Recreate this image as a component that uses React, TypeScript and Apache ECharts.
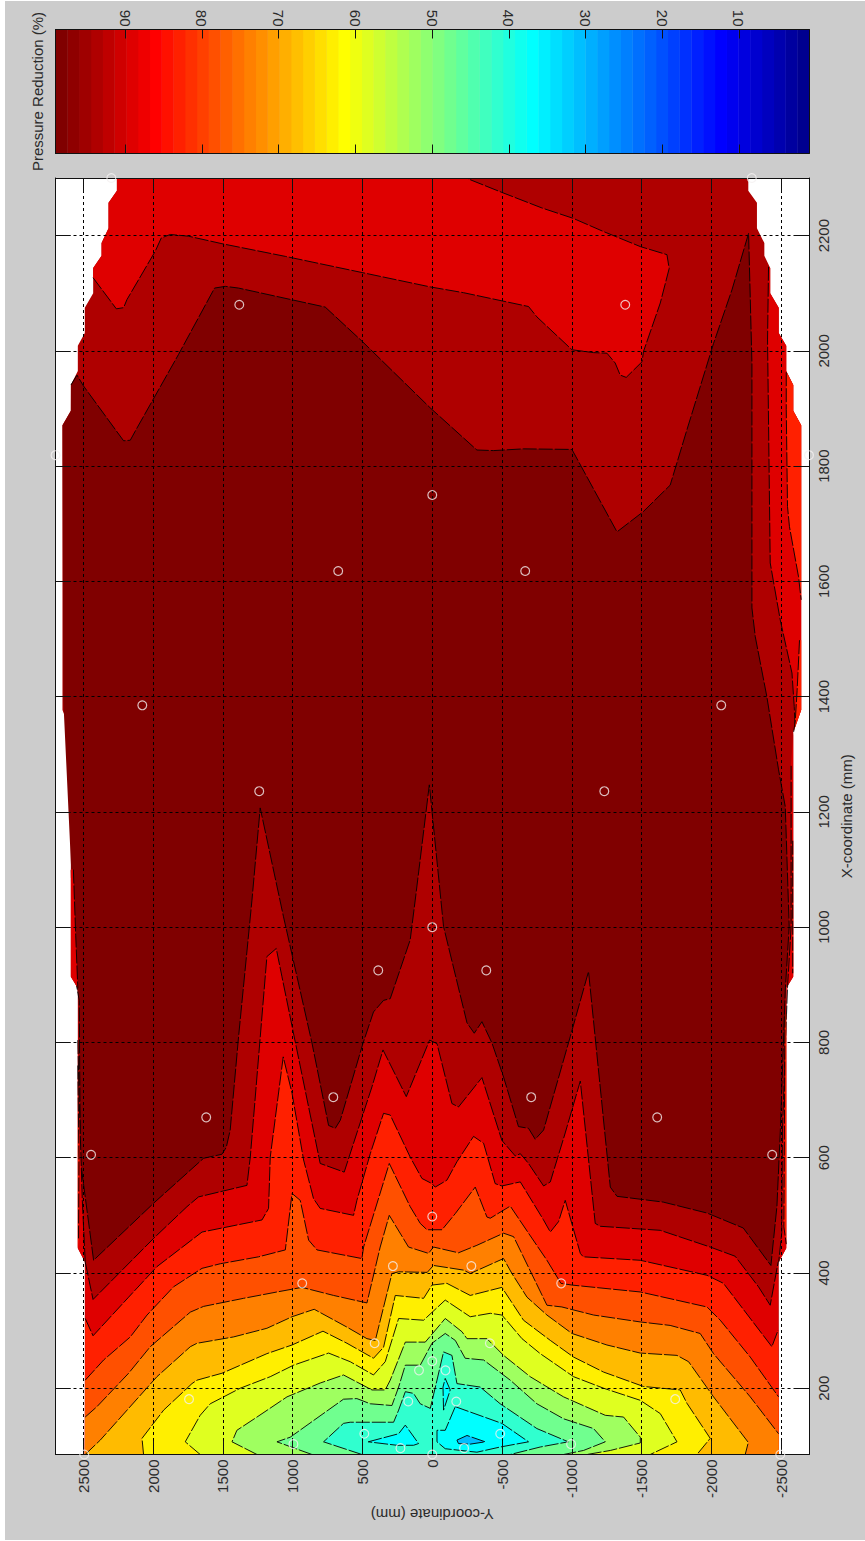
import React, { useEffect, useRef } from "react";
import * as echarts from "echarts";

type P = [number, number];

const yTicks = [-2500, -2000, -1500, -1000, -500, 0, 500, 1000, 1500, 2000, 2500];
const xTicks = [200, 400, 600, 800, 1000, 1200, 1400, 1600, 1800, 2000, 2200];
const barTicks = [10, 20, 30, 40, 50, 60, 70, 80, 90];

const jetColors = [
  "#00008f","#00009f","#0000af","#0000bf","#0000cf","#0000df","#0000ef","#0000ff",
  "#0010ff","#0020ff","#0030ff","#0040ff","#0050ff","#0060ff","#0070ff","#0080ff",
  "#008fff","#009fff","#00afff","#00bfff","#00cfff","#00dfff","#00efff","#00ffff",
  "#10ffef","#20ffdf","#30ffcf","#40ffbf","#50ffaf","#60ff9f","#70ff8f","#80ff80",
  "#8fff70","#9fff60","#afff50","#bfff40","#cfff30","#dfff20","#efff10","#ffff00",
  "#ffef00","#ffdf00","#ffcf00","#ffbf00","#ffaf00","#ff9f00","#ff8f00","#ff8000",
  "#ff7000","#ff6000","#ff5000","#ff4000","#ff3000","#ff2000","#ff1000","#ff0000",
  "#ef0000","#df0000","#cf0000","#bf0000","#af0000","#9f0000","#8f0000","#800000",
];

// [Y-coordinate, X-coordinate] in mm
const domainOutline: P[] = [
  [2260,2300],[2260,2278],[2320,2257],[2320,2213],[2370,2187],[2370,2165],[2430,2144],[2430,2100],
  [2490,2075],[2490,2031],[2540,2009],[2540,1965],[2590,1941],[2590,1896],[2650,1871],[2650,1377],
  [2590,1339],[2590,914],[2540,894],[2540,443],[2490,419],[2490,85],
  [-2483,85],[-2483,419],[-2537,443],[-2537,894],[-2587,914],[-2587,1339],[-2644,1377],[-2644,1871],
  [-2587,1896],[-2587,1941],[-2537,1965],[-2537,2009],[-2483,2031],[-2483,2075],[-2422,2100],[-2422,2144],
  [-2380,2165],[-2380,2187],[-2327,2213],[-2327,2257],[-2265,2278],[-2265,2300],
];

const dark95Line: P[] = [
  [2589,1941],[2546,1958],[2499,1939],[2212,1844],[2164,1845],[2128,1861],[1818,1994],[1560,2109],[1483,2112],[1388,2109],
  [767,2076],[504,2017],[14,1901],[-320,1828],[-439,1827],[-652,1830],[-1001,1829],[-1324,1686],[-1512,1721],[-1705,1767],
  [-1825,1863],[-2016,2013],[-2148,2106],[-2267,2204],[-2291,1979],[-2291,1554],[-2315,1504],[-2398,1400],[-2482,1273],
  [-2530,1209],[-2558,1001],[-2530,891],[-2494,643],[-2470,515],[-2427,413],[-2229,478],[-1969,504],[-1655,523],[-1324,533],
  [-1276,549],[-1120,923],[-989,810],[-798,648],[-738,632],[-690,651],[-618,654],[-511,740],[-428,799],[-356,836],[-301,816],
  [-249,834],[-81,1001],[21,1247],[122,1047],[158,978],[301,876],[349,873],[421,853],[497,798],[659,665],[695,651],[743,656],
  [862,799],[1066,1018],[1233,1207],[1292,1047],[1388,810],[1448,648],[1476,618],[1507,606],[1639,599],[1997,521],[2427,422],
  [2487,532],[2522,596],[2530,873],[2573,931],[2587,1099],
];
const dark95Close: P[] = [[2644,1394],[2650,1871],[2590,1896]];

const top90Line: P[] = [
  [2431,2127],[2264,2073],[2212,2075],[2188,2089],[1985,2173],[1942,2196],[1877,2202],[1746,2199],[1507,2186],[1053,2164],
  [504,2136],[14,2111],[-224,2101],[-690,2077],[-750,2059],[-1001,2002],[-1156,1997],[-1252,1996],[-1311,1979],[-1347,1958],
  [-1390,1954],[-1503,1981],[-1514,1999],[-1634,2083],[-1698,2143],[-1682,2167],[-1491,2181],[-1228,2207],[-1010,2230],
  [-786,2248],[-499,2275],[-272,2297],[-251,2300],
];
const top90Close: P[] = [[2260,2300],[2260,2278],[2320,2257],[2320,2213],[2370,2187],[2370,2165],[2430,2144]];

const rightStrip90Line: P[] = [[-2410,2146],[-2403,2019],[-2422,1632],[-2494,1533],[-2578,1441],[-2594,1383],[-2601,1347]];
const rightStrip90Close: P[] = [[-2644,1377],[-2644,1871],[-2587,1896],[-2587,1941],[-2537,1965],[-2537,2009],[-2483,2031],[-2483,2075],[-2422,2100],[-2422,2144]];
const rightStrip85Line: P[] = [[-2537,1963],[-2537,1898],[-2546,1730],[-2560,1695],[-2625,1608],[-2644,1568]];
const rightStrip85Close: P[] = [[-2644,1871],[-2587,1896],[-2587,1941]];
const rightSliver85Line: P[] = [[-2632,1498],[-2615,1411],[-2601,1356],[-2590,1339]];
const rightSliver85Close: P[] = [[-2644,1377],[-2644,1498]];
const edgeRight90aLine: P[] = [[-2572,1280],[-2572,1001],[-2545,891],[-2510,650]];
const edgeRight90aClose: P[] = [[-2537,650],[-2537,894],[-2587,914],[-2587,1339]];
const edgeRight90bLine: P[] = [[-2510,650],[-2505,470],[-2483,419]];
const edgeRight90bClose: P[] = [[-2537,443],[-2537,650]];
const edgeRight85aLine: P[] = [[-2583,1150],[-2583,920]];
const edgeRight85aClose: P[] = [[-2587,920],[-2587,1150]];
const edgeRight85bLine: P[] = [[-2528,850],[-2520,480],[-2537,450]];
const edgeRight85bClose: P[] = [[-2537,850]];
const edgeLeft90aLine: P[] = [[2572,1100],[2555,985],[2540,894]];
const edgeLeft90aClose: P[] = [[2590,914],[2590,1100]];
const edgeLeft90bLine: P[] = [[2540,804],[2530,700],[2508,526],[2487,419]];
const edgeLeft90bClose: P[] = [[2540,443]];
const edgeLeft85Line: P[] = [[2540,760],[2532,600],[2535,460]];
const edgeLeft85Close: P[] = [[2540,443]];

const bottomCorners: P[] = [[-2483,85],[2490,85]];

const level90: P[] = [
  [2487,419],[2431,354],[1997,460],[1758,515],[1675,532],[1328,552],[1304,601],[1185,949],[1118,963],[1077,914],[970,787],
  [803,590],[631,575],[540,643],[432,723],[353,787],[186,706],[19,804],[-34,798],[-141,694],[-188,688],[-356,739],[-499,630],
  [-595,603],[-631,607],[-690,590],[-798,551],[-846,558],[-953,643],[-1061,733],[-1168,486],[-1204,481],[-1634,474],[-1992,445],
  [-2171,429],[-2338,376],[-2422,344],[-2479,419],
];
const level85: P[] = [
  [2487,321],[2431,291],[2176,358],[1973,411],[1650,471],[1220,492],[1173,512],[1161,601],[1068,775],[1005,712],[922,596],
  [851,529],[803,512],[564,500],[540,526],[444,607],[349,677],[301,674],[158,601],[74,564],[2,555],[-21,549],[-105,561],
  [-177,593],[-296,637],[-368,625],[-451,555],[-499,551],[-631,558],[-795,493],[-846,471],[-905,489],[-953,526],[-1061,434],
  [-1082,428],[-1491,422],[-1969,396],[-2087,382],[-2434,272],[-2479,301],
];
const level80: P[] = [
  [2487,214],[2355,249],[2164,289],[2044,327],[1854,376],[1650,408],[1519,416],[1245,428],[1053,440],[1005,538],[946,526],
  [886,457],[826,440],[504,425],[492,445],[308,590],[158,515],[86,486],[38,475],[-70,475],[-165,503],[-308,549],[-392,497],
  [-416,495],[-559,516],[-690,469],[-822,422],[-922,382],[-1001,379],[-1491,367],[-1969,341],[-2064,318],[-2279,254],[-2482,185],
];
const level75: P[] = [
  [2487,150],[2403,168],[2176,226],[2021,272],[1734,332],[1639,342],[1352,356],[1113,367],[934,375],[707,361],[468,348],
  [373,445],[308,500],[170,445],[27,434],[-9,445],[-188,435],[-320,448],[-511,469],[-583,463],[-822,344],[-929,341],[-1156,327],
  [-1491,315],[-1705,309],[-1920,295],[-2016,260],[-2279,185],[-2482,121],
];
const level70: P[] = [
  [2487,85],[2379,110],[2176,165],[1973,220],[1734,272],[1686,278],[1424,289],[1185,304],[1005,324],[846,337],[611,306],
  [468,286],[408,283],[289,399],[241,402],[36,401],[-9,413],[-224,405],[-272,399],[-511,425],[-571,399],[-679,358],[-822,327],
  [-1001,295],[-1252,275],[-1491,261],[-1754,257],[-1837,246],[-2016,185],[-2265,106],[-2243,85],
];
const level65: P[] = [
  [2069,85],[2080,113],[1925,162],[1722,208],[1686,214],[1507,226],[1185,260],[1005,275],[783,299],[611,278],[421,252],[349,271],
  [265,361],[62,356],[2,379],[-105,382],[-272,361],[-499,375],[-654,318],[-846,283],[-1013,254],[-1228,228],[-1514,203],
  [-1777,197],[-1825,174],[-1992,113],[-1897,85],
];
const level60: P[] = [
  [1663,85],[1770,107],[1663,153],[1591,173],[1376,200],[1161,220],[994,240],[743,261],[588,246],[421,223],[337,246],[241,321],
  [62,318],[-93,353],[-272,324],[-416,330],[-499,327],[-643,286],[-774,260],[-1013,220],[-1228,200],[-1491,179],[-1634,156],
  [-1705,127],[-1754,107],[-1562,85],
];
const level55: P[] = [
  [1256,85],[1435,107],[1400,127],[1256,150],[1041,185],[803,209],[636,223],[432,197],[337,197],[301,214],[193,280],[50,280],
  [-93,321],[-213,298],[-249,286],[-392,286],[-511,257],[-702,220],[-941,185],[-1240,153],[-1371,150],[-1491,115],[-1491,105],
  [-1276,92],[-1109,85],
];
const level50: P[] = [
  [862,85],[1113,107],[1018,115],[636,181],[540,182],[444,173],[289,170],[241,202],[193,240],[86,240],[2,278],[-93,295],[-165,283],
  [-236,252],[-368,249],[-559,214],[-750,173],[-941,147],[-1156,130],[-1240,107],[-1084,92],[-941,85],
];
const level45: P[] = [
  [504,85],[779,107],[636,139],[588,141],[277,141],[241,162],[193,194],[134,191],[86,173],[14,165],[-34,214],[-81,263],[-141,257],
  [-177,208],[-344,202],[-487,173],[-750,130],[-975,107],[-774,98],[-559,85],
];
const island40a: P[] = [[459,107],[241,121],[193,136],[98,104],[134,101],[253,101],[459,107]];
const island40b: P[] = [[-93,217],[-129,197],[-81,162],[-77,202],[-93,217]];
const island40c: P[] = [[-165,168],[-499,139],[-690,107],[-487,98],[-320,89],[-93,95],[-34,107],[-34,127],[-93,127],[-165,168]];
const island35: P[] = [[-177,110],[-249,118],[-380,107],[-272,103],[-188,104],[-177,110]];

const pointsY = [2445,-2436,1620,-1612,709,-709,387,-387,0,1240,-1233,2078,-2071,674,-666,0,1383,-1383,0,932,-924,282,-280,413,-413,95,-95,0,172,-172,487,-487,228,-228,0,995,-995,1743,-1741,2494,-2494,2300,-2290,2700,-2700];
const pointsX = [605,605,670,670,705,705,925,925,1000,1236,1236,1385,1385,1618,1618,1750,2080,2080,498,382,382,412,412,278,278,231,231,247,177,177,121,121,96,96,85,103,103,181,181,85,85,2300,2300,1819,1819];

const color95 = "#800000";
const color100 = "#af0000";
const bandColors: Record<string, string> = {
  c90: "#df0000", c85: "#ff2000", c80: "#ff5000", c75: "#ff8000", c70: "#ffbb00", c65: "#ffef00",
  c60: "#dfff20", c55: "#9fff60", c50: "#70ff8f", c45: "#30ffcf", c40: "#00ffff", c35: "#00bfff",
};

interface Band { line: P[]; close: P[]; fill: string; stroke: boolean }
const bands: Band[] = [
  { line: domainOutline, close: [], fill: color100, stroke: false },
  { line: dark95Line, close: dark95Close, fill: color95, stroke: true },
  { line: top90Line, close: top90Close, fill: bandColors.c90, stroke: true },
  { line: rightStrip90Line, close: rightStrip90Close, fill: bandColors.c90, stroke: true },
  { line: edgeRight90aLine, close: edgeRight90aClose, fill: bandColors.c90, stroke: true },
  { line: edgeRight90bLine, close: edgeRight90bClose, fill: bandColors.c90, stroke: true },
  { line: edgeLeft90aLine, close: edgeLeft90aClose, fill: bandColors.c90, stroke: true },
  { line: edgeLeft90bLine, close: edgeLeft90bClose, fill: bandColors.c90, stroke: true },
  { line: rightStrip85Line, close: rightStrip85Close, fill: bandColors.c85, stroke: true },
  { line: rightSliver85Line, close: rightSliver85Close, fill: bandColors.c85, stroke: true },
  { line: edgeRight85aLine, close: edgeRight85aClose, fill: bandColors.c85, stroke: true },
  { line: edgeRight85bLine, close: edgeRight85bClose, fill: bandColors.c85, stroke: true },
  { line: edgeLeft85Line, close: edgeLeft85Close, fill: bandColors.c85, stroke: true },
  { line: level90, close: bottomCorners, fill: bandColors.c90, stroke: true },
  { line: level85, close: bottomCorners, fill: bandColors.c85, stroke: true },
  { line: level80, close: bottomCorners, fill: bandColors.c80, stroke: true },
  { line: level75, close: bottomCorners, fill: bandColors.c75, stroke: true },
  { line: level70, close: [], fill: bandColors.c70, stroke: true },
  { line: level65, close: [], fill: bandColors.c65, stroke: true },
  { line: level60, close: [], fill: bandColors.c60, stroke: true },
  { line: level55, close: [], fill: bandColors.c55, stroke: true },
  { line: level50, close: [], fill: bandColors.c50, stroke: true },
  { line: level45, close: [], fill: bandColors.c45, stroke: true },
  { line: island40a, close: [], fill: bandColors.c40, stroke: true },
  { line: island40b, close: [], fill: bandColors.c40, stroke: true },
  { line: island40c, close: [], fill: bandColors.c40, stroke: true },
  { line: island35, close: [], fill: bandColors.c35, stroke: true },
];

const TEXT = "#2b2b2b";
const FONT = "'Liberation Sans', Arial, sans-serif";
const BAR_MIN = 0.87;
const BAR_MAX = 99.07;
const plotBox = { left: 55.5, top: 178, width: 753.5, height: 1276.5 };
const barBox = { left: 55.5, top: 29.5, width: 753.5, height: 124 };

function buildOption(): any {
  const step = (BAR_MAX - BAR_MIN) / jetColors.length;
  const strips = jetColors.map((_, i) => [BAR_MIN + i * step, BAR_MIN + (i + 1) * step, i]);
  const tick = (values: number[], length: number) => ({ show: true, inside: true, length, customValues: values, lineStyle: { color: "#111", width: 1 } });
  const label = (values: number[], margin: number) => ({
    show: true, rotate: 90, customValues: values, color: TEXT, fontSize: 15, fontFamily: FONT, margin,
    formatter: (v: number) => String(v),
  });
  const line = { show: true, onZero: false, lineStyle: { color: "#111", width: 1 } };
  const split = { show: true, lineStyle: { color: "#000", width: 1, type: [3, 3] as any } };
  const nameStyle = { color: TEXT, fontSize: 15, fontFamily: FONT };
  return {
    animation: false,
    grid: [
      { ...plotBox, show: true, backgroundColor: "#ffffff", borderWidth: 0 },
      { ...barBox, show: false },
    ],
    xAxis: [
      { type: "value", gridIndex: 0, position: "bottom", inverse: true, min: -2700, max: 2700, z: 4, axisLine: line, axisTick: tick(yTicks, 14), axisLabel: label(yTicks, 5), splitLine: { ...split },
        name: "Y-coordinate (mm)", nameLocation: "middle", nameGap: 52, nameRotate: 180, nameTextStyle: nameStyle },
      { type: "value", gridIndex: 0, position: "top", inverse: true, min: -2700, max: 2700, z: 4, axisLine: line, axisTick: tick(yTicks, 14), axisLabel: { show: false }, splitLine: { show: false } },
      { type: "value", gridIndex: 1, position: "top", inverse: true, min: BAR_MIN, max: BAR_MAX, z: 4, axisLine: line, axisTick: tick(barTicks, 9), axisLabel: label(barTicks, 3), splitLine: { show: false } },
      { type: "value", gridIndex: 1, position: "bottom", inverse: true, min: BAR_MIN, max: BAR_MAX, z: 4, axisLine: line, axisTick: tick(barTicks, 9), axisLabel: { show: false }, splitLine: { show: false } },
    ],
    yAxis: [
      { type: "value", gridIndex: 0, position: "right", min: 85, max: 2300, z: 4, axisLine: line, axisTick: tick(xTicks, 15), axisLabel: label(xTicks, 7), splitLine: { ...split },
        name: "X-coordinate (mm)", nameLocation: "middle", nameGap: 27, nameRotate: 90, nameTextStyle: nameStyle },
      { type: "value", gridIndex: 0, position: "left", min: 85, max: 2300, z: 4, axisLine: line, axisTick: tick(xTicks, 15), axisLabel: { show: false }, splitLine: { show: false } },
      { type: "value", gridIndex: 1, position: "left", min: 0, max: 1, z: 4, axisLine: line, axisTick: { show: false }, axisLabel: { show: false }, splitLine: { show: false },
        name: "Pressure Reduction (%)", nameLocation: "middle", nameGap: 10.5, nameRotate: 90, nameTextStyle: nameStyle },
      { type: "value", gridIndex: 1, position: "right", min: 0, max: 1, z: 4, axisLine: line, axisTick: { show: false }, axisLabel: { show: false }, splitLine: { show: false } },
    ],
    series: [
      {
        type: "custom", xAxisIndex: 0, yAxisIndex: 0, z: 1, silent: true, clip: true,
        data: bands.map((_, i) => [i]),
        renderItem: (params: any, api: any) => {
          const band = bands[params.dataIndex];
          const linePts = band.line.map((p) => api.coord(p));
          const fillPts = linePts.concat(band.close.map((p) => api.coord(p)));
          const children: any[] = [{ type: "polygon", shape: { points: fillPts }, style: { fill: band.fill } }];
          if (band.stroke) {
            children.push({ type: "polyline", shape: { points: linePts }, style: { fill: "none", stroke: "#000", lineWidth: 0.9, lineDash: [14, 2] } });
          }
          return { type: "group", children };
        },
      },
      {
        type: "scatter", xAxisIndex: 0, yAxisIndex: 0, z: 6, silent: true, clip: false,
        symbol: "circle", symbolSize: 8.8,
        itemStyle: { color: "rgba(0,0,0,0)", borderColor: "#f4f0f0", borderWidth: 1.2 },
        data: pointsY.map((y, i) => [y, pointsX[i]]),
      },
      {
        type: "custom", xAxisIndex: 2, yAxisIndex: 2, z: 1, silent: true,
        data: strips,
        renderItem: (_: any, api: any) => {
          const a = api.coord([api.value(0), 1]);
          const b = api.coord([api.value(1), 0]);
          const color = jetColors[api.value(2)];
          return {
            type: "rect",
            shape: { x: Math.min(a[0], b[0]), y: a[1], width: Math.abs(a[0] - b[0]) + 0.4, height: b[1] - a[1] },
            style: { fill: color },
          };
        },
      },
    ],
  };
}

export default function App() {
  const ref = useRef<HTMLDivElement>(null);
  useEffect(() => {
    if (!ref.current) return;
    const chart = echarts.init(ref.current, undefined, { renderer: "svg" });
    chart.setOption(buildOption());
    return () => chart.dispose();
  }, []);
  return (
    <div
      ref={ref}
      style={{
        position: "absolute", left: 0, top: 0, width: 865, height: 1541,
        backgroundColor: "#ffffff",
        backgroundImage: "linear-gradient(#cccccc,#cccccc)",
        backgroundPosition: "5px 1px",
        backgroundSize: "860px 1539px",
        backgroundRepeat: "no-repeat",
      }}
    />
  );
}
